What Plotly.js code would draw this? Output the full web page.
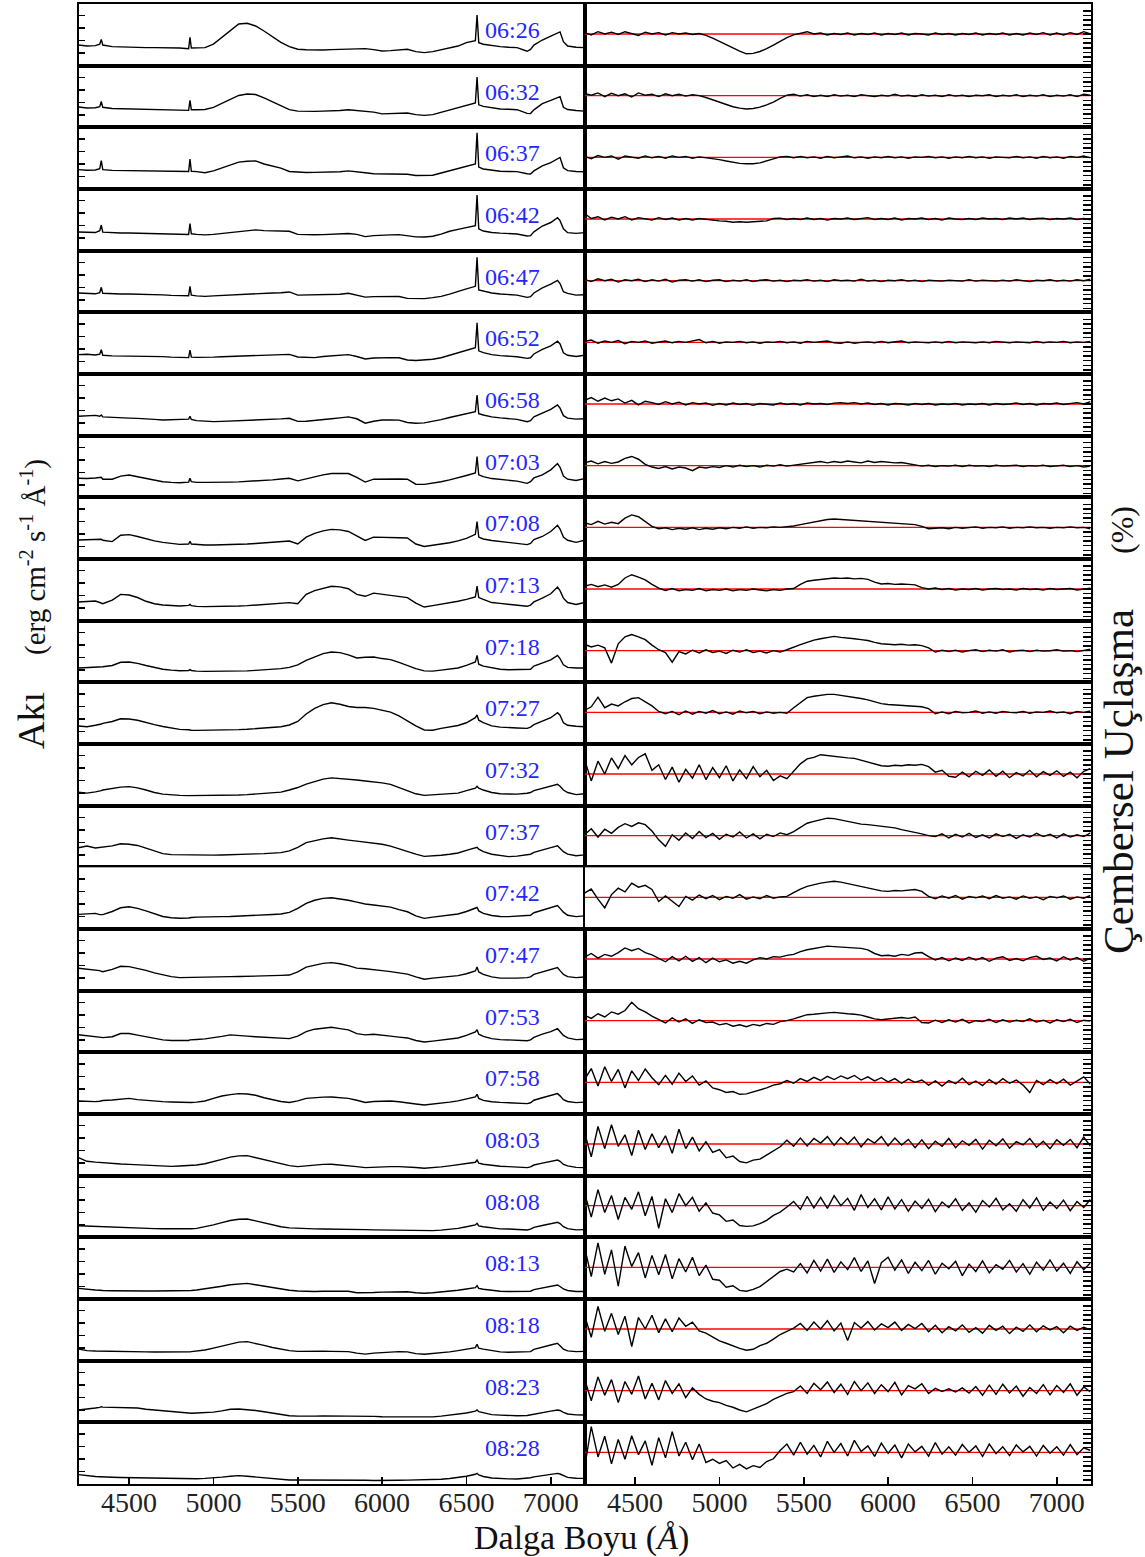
<!DOCTYPE html>
<html><head><meta charset="utf-8">
<script src="https://cdn.plot.ly/plotly-3.0.1.min.js"></script>
<style>html,body{margin:0;padding:0;background:#fff}#chart{width:1145px;height:1557px}</style>
</head><body><div id="chart"></div>
<script>
const times = ['06:26','06:32','06:37','06:42','06:47','06:52','06:58','07:03','07:08','07:13','07:18','07:27',
               '07:32','07:37','07:42','07:47','07:53','07:58','08:03','08:08','08:13','08:18','08:23','08:28'];
const xTickVals = [4500,5000,5500,6000,6500,7000];
const fluxTickVals = [1,2,3,4];
const polTickVals = [-6,-5,-4,-3,-2,-1,0,1,2,3,4,5];

const fluxWave = [4200,4250,4300,4326,4335,4344,4400,4450,4500,4550,
4600,4650,4700,4750,4800,4853,4861,4869,4900,4950,
5000,5050,5100,5150,5200,5250,5300,5350,5400,5450,
5500,5550,5600,5650,5700,5750,5800,5850,5900,5950,
6000,6050,6100,6150,6200,6250,6300,6350,6400,6450,
6500,6553,6563,6573,6600,6650,6700,6750,6800,6860,
6880,6900,6950,7000,7040,7055,7075,7100,7150,7200];

const polWave = [4200,4240,4280,4320,4360,4400,4440,4480,4520,4560,4600,4640,4680,4720,4760,4800,4840,4880,4920,4960,
5000,5040,5080,5120,5160,5200,5240,5280,5320,5360,5400,5440,5480,5520,5560,5600,5640,5680,5720,5760,
5800,5840,5880,5920,5960,6000,6040,6080,6120,6160,6200,6240,6280,6320,6360,6400,6440,6480,6520,6560,
6600,6640,6680,6720,6760,6800,6840,6880,6920,6960,7000,7040,7080,7120,7160,7200];
const zeroLevel = [0, 0];

// Flux (relative units) per time
const flux_0626 = [1.65,1.57,1.60,1.72,2.10,1.65,1.52,1.49,1.47,1.47, 1.44,1.44,1.44,1.42,1.41,1.36,2.27,1.41,1.41,1.44, 1.73,2.27,2.77,3.33,3.39,3.17,2.77,2.32,1.87,1.52, 1.31,1.27,1.25,1.25,1.28,1.31,1.33,1.36,1.36,1.28, 1.17,1.20,1.25,1.31,1.12,1.04,1.12,1.25,1.39,1.57, 1.84,2.00,4.05,1.84,1.71,1.60,1.52,1.47,1.44,1.15, 1.30,1.65,2.05,2.37,2.64,2.70,1.92,1.57,1.47,1.44];
const flux_0632 = [1.63,1.55,1.57,1.65,2.08,1.60,1.50,1.49,1.47,1.47, 1.45,1.45,1.44,1.43,1.41,1.36,2.16,1.41,1.41,1.43, 1.60,1.90,2.22,2.55,2.66,2.62,2.35,2.05,1.78,1.42, 1.30,1.27,1.28,1.30,1.30,1.35,1.40,1.35,1.28,1.22, 1.08,1.10,1.13,1.15,1.02,0.96,1.02,1.20,1.40,1.60, 1.80,1.95,4.03,1.80,1.68,1.55,1.47,1.44,1.41,1.12, 1.10,1.40,1.90,2.15,2.38,2.45,1.60,1.42,1.35,1.30];
const flux_0637 = [1.55,1.50,1.52,1.62,2.27,1.55,1.49,1.48,1.47,1.47, 1.46,1.46,1.45,1.44,1.42,1.40,2.40,1.42,1.39,1.30, 1.45,1.70,1.95,2.15,2.22,2.25,2.00,1.82,1.67,1.40, 1.33,1.32,1.33,1.34,1.35,1.38,1.45,1.40,1.30,1.22, 1.20,1.20,1.22,1.18,1.08,1.06,1.10,1.28,1.47,1.65, 1.85,2.00,4.50,1.75,1.60,1.48,1.42,1.40,1.39,1.22, 1.20,1.45,1.85,2.10,2.45,2.52,1.70,1.47,1.40,1.38];
const flux_0642 = [1.49,1.45,1.45,1.60,2.05,1.48,1.42,1.41,1.41,1.40, 1.40,1.39,1.38,1.36,1.31,1.30,2.16,1.35,1.30,1.26, 1.30,1.38,1.45,1.52,1.62,1.66,1.60,1.57,1.57,1.55, 1.30,1.26,1.27,1.28,1.30,1.32,1.37,1.30,1.12,1.20, 1.25,1.26,1.28,1.20,1.10,1.09,1.15,1.32,1.55,1.70, 1.85,2.00,4.45,1.75,1.57,1.45,1.40,1.36,1.33,1.17, 1.20,1.50,1.97,2.25,2.64,2.40,1.75,1.44,1.38,1.44];
const flux_0647 = [1.55,1.50,1.48,1.58,2.00,1.52,1.47,1.47,1.47,1.46, 1.45,1.43,1.40,1.36,1.33,1.33,2.08,1.38,1.32,1.28, 1.32,1.36,1.38,1.40,1.45,1.50,1.52,1.55,1.57,1.63, 1.38,1.40,1.41,1.40,1.42,1.45,1.52,1.35,1.22,1.26, 1.28,1.28,1.27,1.12,1.08,1.10,1.18,1.28,1.45,1.68, 1.88,2.08,4.40,1.80,1.70,1.55,1.47,1.41,1.38,1.20, 1.25,1.55,1.95,2.25,2.56,2.30,1.65,1.52,1.38,1.41];
const flux_0652 = [1.55,1.58,1.52,1.58,1.95,1.50,1.45,1.45,1.44,1.44, 1.43,1.41,1.39,1.35,1.31,1.31,1.90,1.35,1.33,1.31, 1.35,1.38,1.41,1.44,1.46,1.50,1.52,1.54,1.56,1.57, 1.36,1.33,1.31,1.40,1.45,1.50,1.55,1.40,1.20,1.28, 1.31,1.31,1.30,1.12,1.08,1.10,1.18,1.30,1.50,1.70, 1.90,2.10,4.10,1.85,1.71,1.55,1.47,1.44,1.38,1.25, 1.30,1.60,1.97,2.25,2.62,2.40,1.70,1.50,1.40,1.50];
const flux_0658 = [1.55,1.58,1.62,1.55,1.65,1.50,1.45,1.42,1.40,1.38, 1.36,1.30,1.25,1.27,1.28,1.32,1.55,1.30,1.20,1.14, 1.12,1.14,1.16,1.18,1.20,1.24,1.28,1.31,1.34,1.39, 1.14,1.15,1.20,1.28,1.35,1.42,1.50,1.35,1.00,1.15, 1.25,1.25,1.24,1.05,0.99,1.02,1.12,1.28,1.45,1.62, 1.78,1.92,3.25,1.75,1.65,1.50,1.42,1.39,1.30,1.12, 1.20,1.50,1.80,2.10,2.45,2.20,1.60,1.40,1.32,1.35];
const flux_0703 = [1.52,1.50,1.55,1.57,1.60,1.45,1.45,1.70,1.79,1.65, 1.50,1.35,1.25,1.20,1.17,1.22,1.52,1.25,1.20,1.20, 1.19,1.20,1.22,1.24,1.27,1.30,1.35,1.40,1.46,1.52, 1.32,1.50,1.65,1.80,1.90,1.92,1.90,1.60,1.22,1.45, 1.47,1.47,1.47,1.45,1.05,1.04,1.12,1.25,1.40,1.55, 1.75,1.95,3.25,1.80,1.65,1.50,1.42,1.39,1.30,1.12, 1.25,1.55,1.80,2.20,2.70,2.40,1.70,1.45,1.35,1.50];
const flux_0708 = [1.52,1.55,1.58,1.60,1.58,1.50,1.39,1.90,1.95,1.80, 1.62,1.45,1.33,1.25,1.17,1.20,1.42,1.20,1.15,1.12, 1.12,1.13,1.15,1.17,1.20,1.24,1.28,1.32,1.38,1.44, 1.20,1.75,2.05,2.25,2.37,2.33,2.20,1.85,1.48,1.75, 1.75,1.72,1.70,1.68,1.20,1.00,1.08,1.18,1.30,1.45, 1.65,1.97,3.00,1.75,1.60,1.48,1.40,1.33,1.25,1.15, 1.25,1.55,1.80,2.20,2.70,2.40,1.75,1.50,1.33,1.50];
const flux_0713 = [1.49,1.52,1.57,1.45,1.40,1.36,1.65,2.10,2.05,1.85, 1.55,1.35,1.25,1.20,1.17,1.22,1.30,1.20,1.14,1.12, 1.12,1.13,1.14,1.17,1.20,1.24,1.28,1.32,1.38,1.44, 1.35,2.10,2.40,2.60,2.75,2.70,2.55,2.10,1.95,2.20, 2.10,2.00,1.92,1.84,1.40,1.09,1.20,1.30,1.42,1.55, 1.70,1.89,2.77,1.85,1.70,1.45,1.38,1.31,1.25,1.15, 1.25,1.50,1.80,2.15,2.69,2.40,1.80,1.45,1.30,1.45];
const flux_0718 = [1.15,1.18,1.20,1.22,1.25,1.25,1.35,1.60,1.62,1.52, 1.35,1.18,1.05,0.98,0.93,0.95,1.02,0.95,0.90,0.88, 0.88,0.88,0.88,0.89,0.92,0.96,1.00,1.05,1.10,1.20, 1.40,1.75,2.05,2.30,2.42,2.38,2.20,1.95,2.00,2.02, 1.90,1.82,1.60,1.35,1.10,0.92,0.90,0.98,1.05,1.15, 1.35,1.63,2.16,1.45,1.30,1.15,1.05,1.01,1.01,1.00, 1.05,1.30,1.55,1.80,2.16,1.90,1.40,1.20,1.15,1.15];
const flux_0727 = [1.44,1.38,1.50,1.55,1.60,1.65,1.80,2.02,2.00,1.90, 1.70,1.55,1.40,1.28,1.17,1.14,1.12,1.10,1.09,1.09, 1.09,1.10,1.12,1.15,1.18,1.22,1.28,1.32,1.38,1.52, 1.80,2.40,2.85,3.15,3.30,3.18,3.00,2.92,2.92,2.85, 2.70,2.55,2.25,1.85,1.45,1.12,1.10,1.25,1.35,1.48, 1.70,2.11,2.32,1.90,1.71,1.45,1.35,1.30,1.28,1.25, 1.35,1.55,1.85,2.10,2.50,2.30,1.70,1.50,1.42,1.38];
const flux_0732 = [1.07,1.00,1.10,1.15,1.20,1.25,1.38,1.48,1.52,1.42, 1.25,1.05,0.92,0.85,0.82,0.80,0.80,0.80,0.80,0.80, 0.80,0.81,0.83,0.85,0.88,0.92,0.96,1.02,1.08,1.25, 1.45,1.72,1.95,2.12,2.22,2.18,2.13,2.05,1.97,1.90, 1.82,1.70,1.45,1.15,0.95,0.82,0.85,0.90,0.92,1.00, 1.20,1.40,1.55,1.40,1.25,1.05,0.95,0.91,0.92,0.99, 1.05,1.20,1.40,1.55,1.71,1.55,1.25,1.05,0.88,0.95];
const flux_0737 = [1.57,1.70,1.55,1.58,1.62,1.65,1.72,1.88,1.85,1.75, 1.55,1.30,1.10,1.02,1.00,0.99,0.99,0.99,0.99,0.98, 0.98,0.99,1.00,1.02,1.05,1.08,1.10,1.12,1.18,1.31, 1.60,1.98,2.15,2.28,2.36,2.30,2.18,2.10,2.02,1.95, 1.85,1.70,1.48,1.25,1.05,0.88,0.90,0.97,1.05,1.15, 1.35,1.52,1.60,1.45,1.25,1.05,0.95,0.86,0.90,0.99, 1.05,1.20,1.42,1.58,1.73,1.55,1.25,1.05,0.93,1.00];
const flux_0742 = [1.17,1.22,1.25,1.15,1.12,1.15,1.40,1.70,1.78,1.65, 1.45,1.20,1.00,0.90,0.86,0.88,0.92,0.92,0.95,0.98, 0.99,0.99,1.00,1.02,1.05,1.09,1.13,1.16,1.20,1.33, 1.65,2.05,2.30,2.45,2.50,2.42,2.30,2.15,2.00,1.92, 1.82,1.75,1.55,1.38,1.05,0.85,0.95,1.05,1.12,1.20, 1.40,1.62,1.72,1.45,1.25,1.08,1.00,0.99,1.02,1.05, 1.10,1.30,1.50,1.68,1.87,1.65,1.35,1.10,0.99,1.05];
const flux_0747 = [1.79,1.72,1.68,1.60,1.55,1.52,1.70,1.95,1.92,1.80, 1.62,1.42,1.25,1.12,1.04,1.06,1.08,1.08,1.10,1.10, 1.12,1.12,1.12,1.13,1.14,1.15,1.17,1.19,1.22,1.25, 1.50,1.88,2.05,2.18,2.24,2.15,2.00,1.80,1.75,1.70, 1.60,1.52,1.42,1.32,1.10,0.92,1.00,1.07,1.12,1.20, 1.35,1.57,1.89,1.50,1.30,1.10,1.00,0.99,1.00,1.04, 1.10,1.30,1.50,1.65,1.84,1.60,1.30,1.12,1.04,1.09];
const flux_0753 = [1.41,1.35,1.30,1.25,1.20,1.18,1.25,1.50,1.50,1.38, 1.25,1.10,1.00,0.95,0.93,0.95,1.00,1.00,1.03,1.08, 1.15,1.28,1.40,1.38,1.30,1.25,1.22,1.18,1.15,1.10, 1.30,1.65,1.85,1.95,2.00,1.90,1.80,1.50,1.40,1.45, 1.40,1.30,1.22,1.15,0.95,0.83,0.90,0.98,1.05,1.15, 1.35,1.63,1.81,1.45,1.28,1.10,1.02,1.00,0.95,0.93, 1.00,1.20,1.45,1.65,1.89,1.65,1.35,1.15,1.02,1.05];
const flux_0758 = [1.04,1.00,0.99,1.02,1.05,1.08,1.12,1.20,1.25,1.15, 1.08,1.02,0.99,0.96,0.93,0.91,0.91,0.92,0.95,1.04, 1.25,1.44,1.55,1.63,1.60,1.50,1.30,1.12,1.00,0.92, 1.05,1.25,1.32,1.35,1.36,1.30,1.25,1.10,0.92,1.00, 1.04,1.04,0.98,0.92,0.80,0.72,0.78,0.85,0.95,1.05, 1.20,1.36,1.57,1.25,1.09,0.98,0.93,0.91,0.88,0.83, 0.90,1.10,1.30,1.45,1.63,1.45,1.15,1.00,0.91,0.95];
const flux_0803 = [1.44,1.15,1.08,1.05,1.02,1.00,0.97,0.93,0.90,0.86, 0.82,0.76,0.72,0.74,0.77,0.79,0.80,0.82,0.85,0.95, 1.10,1.30,1.48,1.58,1.60,1.45,1.30,1.12,0.98,0.80, 0.72,0.80,0.87,0.90,0.91,0.86,0.80,0.72,0.64,0.68, 0.70,0.72,0.72,0.70,0.65,0.59,0.62,0.70,0.78,0.88, 0.98,1.07,1.25,1.00,0.91,0.80,0.75,0.72,0.70,0.64, 0.70,0.85,1.00,1.12,1.25,1.15,0.90,0.78,0.66,0.64];
const flux_0808 = [0.93,0.90,0.88,0.87,0.86,0.86,0.85,0.82,0.78,0.74, 0.72,0.70,0.69,0.68,0.67,0.68,0.68,0.69,0.72,0.85, 1.00,1.18,1.35,1.45,1.47,1.32,1.15,0.98,0.85,0.76, 0.72,0.70,0.68,0.67,0.67,0.67,0.67,0.64,0.62,0.60, 0.59,0.58,0.56,0.54,0.52,0.51,0.54,0.58,0.64,0.72, 0.85,0.99,1.12,0.92,0.85,0.75,0.68,0.67,0.65,0.59, 0.65,0.80,0.95,1.08,1.20,1.10,0.85,0.70,0.60,0.62];
const flux_0813 = [0.85,0.76,0.72,0.70,0.68,0.68,0.66,0.64,0.64,0.64, 0.64,0.64,0.64,0.64,0.64,0.65,0.66,0.68,0.72,0.80, 0.90,1.02,1.14,1.22,1.25,1.14,1.02,0.88,0.78,0.70, 0.64,0.60,0.60,0.62,0.63,0.64,0.62,0.50,0.48,0.52, 0.55,0.57,0.58,0.58,0.50,0.46,0.50,0.55,0.62,0.70, 0.80,0.91,1.07,0.85,0.78,0.68,0.62,0.60,0.59,0.59, 0.62,0.75,0.90,1.00,1.12,1.00,0.80,0.68,0.60,0.60];
const flux_0818 = [0.93,0.80,0.77,0.76,0.75,0.74,0.73,0.72,0.72,0.71, 0.70,0.69,0.68,0.67,0.67,0.68,0.70,0.72,0.76,0.85, 1.00,1.18,1.35,1.48,1.52,1.40,1.22,1.05,0.90,0.80, 0.74,0.76,0.77,0.76,0.74,0.73,0.72,0.60,0.52,0.60, 0.66,0.70,0.72,0.70,0.56,0.51,0.56,0.62,0.70,0.80, 0.92,1.04,1.31,1.00,0.92,0.78,0.70,0.67,0.67,0.66, 0.72,0.90,1.10,1.25,1.39,1.20,0.92,0.78,0.72,0.74];
const flux_0823 = [0.99,1.10,1.15,1.20,1.25,1.22,1.20,1.20,1.20,1.15, 1.05,0.99,0.90,0.82,0.76,0.72,0.72,0.73,0.75,0.78, 0.82,0.92,1.05,1.07,1.02,0.95,0.85,0.75,0.62,0.53, 0.50,0.48,0.50,0.52,0.52,0.52,0.52,0.53,0.52,0.48, 0.45,0.44,0.43,0.42,0.40,0.40,0.44,0.50,0.57,0.65, 0.75,0.90,0.99,0.85,0.75,0.62,0.58,0.55,0.53,0.55, 0.60,0.70,0.80,0.90,0.99,0.95,0.80,0.67,0.60,0.59];
const flux_0828 = [0.75,0.65,0.60,0.58,0.57,0.56,0.54,0.52,0.51,0.50, 0.49,0.48,0.46,0.44,0.42,0.40,0.40,0.40,0.42,0.45, 0.48,0.55,0.62,0.67,0.62,0.55,0.50,0.42,0.36,0.32, 0.32,0.32,0.33,0.34,0.35,0.35,0.34,0.32,0.30,0.28, 0.27,0.28,0.30,0.31,0.32,0.33,0.35,0.38,0.44,0.50, 0.62,0.78,0.85,0.72,0.60,0.48,0.43,0.41,0.40,0.45, 0.50,0.57,0.65,0.75,0.85,0.80,0.65,0.53,0.46,0.45];

// Circular polarisation (%) per time
const pol_0626 = [0.3,-0.2,0.5,0.0,0.4, -0.1,0.5,0.1,-0.3,0.4, 0.0,0.3,-0.2,0.3,0.0, 0.2,-0.1,0.1,-0.3,-0.9, -1.6,-2.4,-3.1,-3.7,-4.3, -4.2,-3.8,-3.2,-2.4,-1.6, -0.8,-0.2,0.1,0.5,0.0, 0.2,-0.2,0.1,-0.1,0.2, -0.2,0.1,-0.1,0.2,-0.2, 0.1,-0.1,0.2,-0.2,0.1, 0.0,-0.2,0.2,-0.1,0.1, -0.2,0.1,-0.1,0.2,-0.2, 0.1,-0.1,0.2,-0.2,0.1, -0.2,0.2,-0.1,0.3,-0.2, 0.2,-0.2,0.3,-0.1,0.5,0.0];
const pol_0632 = [0.5,0.1,0.6,-0.2,0.5, 0.0,0.4,-0.3,0.6,0.1, 0.3,-0.2,0.4,0.0,0.3, -0.1,0.2,0.0,-0.4,-0.9, -1.4,-1.9,-2.4,-2.7,-2.9, -2.8,-2.5,-2.0,-1.4,-0.6, 0.1,0.3,-0.1,0.2,-0.2, 0.1,-0.2,0.2,-0.1,0.1, -0.2,0.2,0.0,-0.2,0.1, -0.1,0.3,-0.1,0.1,-0.2, 0.2,-0.1,0.1,-0.2,0.2, -0.1,0.1,-0.2,0.1,0.0, 0.2,-0.2,0.1,-0.1,0.2, -0.2,0.1,-0.1,0.2,-0.2, 0.1,-0.1,0.2,-0.2,0.3,0.1];
const pol_0637 = [0.2,-0.3,0.4,0.0,0.3, -0.4,0.3,0.1,-0.2,0.3, -0.1,0.2,-0.2,0.3,0.0, 0.2,-0.2,0.1,-0.1,-0.2, -0.5,-0.8,-1.1,-1.3,-1.4, -1.4,-1.2,-0.8,-0.3,0.1, 0.2,-0.1,0.2,-0.1,0.1, -0.2,0.2,-0.1,0.1,0.3, -0.1,0.1,-0.2,0.1,-0.1, 0.2,-0.1,0.1,-0.2,0.1, 0.0,0.2,-0.1,0.1,-0.2, 0.1,-0.1,0.2,-0.1,0.1, -0.2,0.1,0.0,-0.1,0.2, -0.1,0.1,-0.2,0.2,-0.1, 0.1,-0.2,0.2,0.0,0.3,-0.1];
const pol_0642 = [1.2,0.1,0.5,-0.2,0.4, 0.0,0.5,-0.2,0.3,0.1, -0.2,0.3,-0.1,0.2,-0.2, 0.1,-0.2,0.1,-0.1,-0.2, -0.4,-0.5,-0.7,-0.6,-0.7, -0.6,-0.5,-0.4,0.1,0.2, -0.1,0.1,-0.1,0.2,-0.1, 0.1,-0.2,0.1,0.0,0.2, -0.1,0.1,0.3,-0.1,0.1, -0.1,0.2,-0.2,0.1,0.0, 0.2,-0.1,0.1,-0.2,0.2, 0.0,-0.1,0.1,-0.1,0.2, 0.0,0.1,-0.1,0.2,0.0, 0.2,-0.1,0.1,0.2,-0.1, 0.1,0.0,0.2,-0.1,0.1,-0.2];
const pol_0647 = [0.3,-0.2,0.4,0.0,0.3, -0.3,0.2,0.0,0.3,-0.2, 0.2,-0.1,0.3,-0.3,0.1, 0.2,-0.1,0.2,-0.2,0.1, 0.2,-0.2,0.1,-0.1,0.2, -0.2,0.1,0.2,-0.1,0.1, -0.2,0.1,0.0,0.2,-0.1, 0.1,-0.2,0.2,0.0,0.1, -0.1,0.3,-0.1,0.1,-0.2, 0.1,0.0,0.2,-0.1,0.1, -0.2,0.1,0.0,-0.1,0.1, 0.0,-0.1,0.2,-0.1,0.1, 0.0,-0.1,0.1,-0.1,0.2, 0.0,-0.2,0.1,0.0,0.2, -0.1,0.1,-0.1,0.2,0.0,0.3];
const pol_0652 = [0.2,0.5,-0.2,0.3,0.0, 0.4,-0.3,0.2,0.0,0.3, -0.2,0.1,0.3,-0.1,0.2, 0.0,0.3,0.6,-0.1,0.2, -0.2,0.1,0.0,0.2,-0.1, 0.1,-0.2,0.1,0.0,0.2, -0.1,0.1,-0.2,0.2,0.0, 0.1,0.3,-0.1,-0.2,0.1, -0.2,0.0,0.1,-0.1,0.2, -0.1,0.1,0.3,-0.1,0.1, 0.0,-0.1,0.1,-0.1,0.2, -0.1,0.1,0.0,-0.1,0.1, -0.1,0.2,0.0,-0.1,0.1, 0.0,-0.1,0.2,-0.1,0.1, 0.0,0.2,-0.1,0.1,0.0,0.2];
const pol_0658 = [0.8,1.4,0.6,1.3,0.7, 1.1,0.2,0.8,-0.2,0.6, 0.3,-0.1,0.5,0.0,0.4, -0.2,0.3,0.0,0.2,-0.3, 0.1,-0.2,0.2,-0.1,0.1, -0.3,0.1,0.0,-0.2,0.2, -0.1,0.1,-0.2,0.2,0.0, 0.1,-0.1,0.2,0.3,0.1, 0.3,0.0,0.2,-0.1,0.1, -0.2,0.1,0.0,-0.2,0.1, -0.1,0.1,-0.2,0.0,-0.1, 0.1,-0.2,0.0,-0.1,0.1, -0.2,0.1,-0.1,0.0,0.2, -0.1,0.1,-0.2,0.1,0.0, 0.2,-0.1,0.1,0.3,0.0,0.5];
const pol_0703 = [0.6,1.0,0.4,0.9,0.5, 0.8,1.6,2.0,1.4,0.3, -0.3,-0.6,-0.2,-0.7,-0.3, -0.5,-1.1,-0.3,-0.5,-0.2, -0.4,0.0,-0.3,0.1,-0.2, 0.0,-0.3,0.1,-0.1,0.2, -0.1,0.1,0.3,0.5,0.7, 0.9,0.6,0.9,0.7,1.0, 0.8,0.6,1.0,0.7,0.9, 0.8,0.6,0.7,0.4,0.2, -0.1,0.1,-0.2,0.0,-0.1, 0.1,-0.2,0.1,-0.1,0.0, -0.2,0.1,-0.1,0.0,0.1, -0.2,0.0,-0.1,0.1,-0.2, 0.0,0.1,-0.2,0.0,-0.3,-0.1];
const pol_0708 = [1.0,0.6,1.3,0.7,1.1, 0.8,2.0,2.7,2.3,1.2, 0.2,-0.3,-0.1,-0.5,-0.2, -0.4,-0.1,-0.5,-0.2,-0.4, -0.1,-0.3,0.0,-0.2,0.1, -0.2,0.0,-0.1,0.1,0.0, 0.1,0.3,0.6,0.9,1.2, 1.4,1.7,1.8,1.7,1.6, 1.5,1.5,1.4,1.2,1.1, 1.0,0.9,0.9,0.8,0.6, 0.2,-0.3,-0.2,-0.1,-0.3, 0.0,-0.2,-0.1,0.1,-0.2, 0.0,-0.1,0.1,-0.2,0.0, -0.1,0.1,-0.1,0.0,-0.2, 0.0,-0.1,0.1,-0.1,0.0,-0.3];
const pol_0713 = [0.6,1.0,0.5,0.9,0.4, 1.0,2.4,3.1,2.6,2.0, 1.0,0.2,-0.3,0.1,-0.4, -0.1,-0.3,0.1,-0.4,-0.1, -0.3,0.0,-0.4,-0.1,-0.3, 0.0,-0.2,-0.4,-0.1,-0.3, 0.0,0.1,1.0,1.7,1.9, 2.1,2.3,2.4,2.3,2.4, 2.2,2.3,2.1,1.5,1.1, 1.2,1.0,1.1,1.0,0.9, 0.3,0.0,0.2,-0.1,0.1, -0.2,0.0,-0.1,0.1,-0.2, 0.0,0.1,-0.1,0.0,-0.2, 0.1,-0.1,0.0,-0.2,0.1, -0.1,0.0,0.1,-0.2,0.0,0.2];
const pol_0718 = [1.4,0.8,1.2,0.6,-2.7, 1.5,3.0,3.5,3.0,2.4, 1.2,0.2,-0.4,-2.5,-0.2, -0.7,0.1,-0.5,0.2,-0.4, -0.1,-0.6,0.1,-0.3,0.2, -0.4,-0.1,-0.5,0.0,-0.3, 0.2,0.8,1.3,1.8,2.3, 2.6,2.9,3.1,2.9,2.8, 2.6,2.4,2.2,1.8,1.5, 1.4,1.3,1.4,1.2,1.3, 1.1,0.6,-0.3,0.1,-0.2, 0.1,-0.3,0.0,0.2,-0.2, 0.1,-0.1,0.2,-0.3,0.0, 0.1,-0.2,0.1,-0.1,0.0, 0.2,-0.1,0.0,-0.2,0.1,0.3];
const pol_0727 = [0.4,1.2,3.3,1.0,1.8, 1.4,2.3,3.0,3.2,2.3, 1.4,0.2,-0.3,0.2,-0.5, 0.3,-0.4,0.2,-0.2,0.4, -0.3,0.1,-0.4,0.3,-0.1, 0.2,-0.3,0.1,-0.2,0.0, -0.2,1.0,2.2,3.2,3.5, 3.7,3.9,3.9,3.7,3.5, 3.3,3.0,2.7,2.3,1.9, 1.7,1.6,1.4,1.3,1.2, 1.2,0.8,-0.3,0.1,-0.3, 0.2,-0.1,0.0,0.3,-0.2, 0.1,-0.2,0.2,0.0,-0.1, 0.2,-0.2,0.1,0.0,0.3, -0.1,0.1,-0.3,0.2,0.0,0.3];
const pol_0732 = [3.2,-1.5,2.8,0.0,3.5, 1.2,4.0,2.0,3.6,4.4, 0.8,2.0,-1.2,1.5,-1.8, 1.0,-0.9,2.0,-1.2,1.4, -0.8,1.8,-1.5,0.9,-1.0, 1.6,-0.6,0.8,-1.4,-0.4, -1.0,0.5,2.2,3.3,3.6, 4.2,4.0,3.8,3.7,3.5, 3.4,3.0,2.6,2.2,1.8, 1.7,1.9,1.8,2.0,1.9, 2.1,1.6,0.4,0.8,-0.5, -0.7,0.4,-0.6,0.6,-0.3, 0.9,-0.5,0.6,-0.8,0.3, -0.4,0.8,-0.6,0.5,-0.3, 0.7,-0.5,0.4,-0.8,0.6,1.2];
const pol_0737 = [0.2,1.5,-0.3,1.4,0.5, 1.8,2.6,2.0,2.8,2.4, 1.0,-0.9,-2.3,0.2,-1.0, 0.6,-0.6,0.9,-0.4,0.5, -0.8,0.3,-0.3,0.8,-0.5, 0.4,-0.7,0.3,-0.2,0.6, 0.2,0.9,1.8,2.7,3.1, 3.4,3.8,3.7,3.4,3.2, 2.9,2.5,2.4,2.2,2.0, 1.8,1.7,1.3,1.0,0.8, 0.4,0.0,-0.2,0.4,-0.5, 0.3,-0.3,0.5,-0.4,0.2, -0.5,0.4,-0.2,0.3,-0.6, 0.2,-0.3,0.5,-0.2,0.3, -0.5,0.4,-0.3,0.2,-0.2,0.6];
const pol_0742 = [0.9,1.8,-0.4,-2.3,0.6, 2.0,1.2,3.1,2.2,2.6, 1.7,-0.9,0.3,-0.8,-2.0, 0.2,-0.6,0.5,-0.3,0.4, -0.5,0.2,-0.2,0.6,-0.4, 0.1,-0.3,0.4,-0.2,0.1, 0.2,1.0,1.8,2.4,2.8, 3.1,3.3,3.5,3.3,3.0, 2.7,2.4,2.0,1.7,1.4, 1.3,1.5,1.4,1.6,1.7, 1.3,0.2,-0.3,0.3,-0.2, 0.4,-0.4,0.2,-0.1,0.3, -0.3,0.4,-0.2,0.1,-0.4, 0.3,-0.2,0.1,-0.5,0.2, -0.1,0.3,-0.4,0.1,-0.2,0.4];
const pol_0747 = [0.4,1.2,0.2,1.0,0.6, 1.4,2.4,1.8,2.3,1.4, 0.9,0.1,-0.6,0.5,-0.4, 0.6,-0.5,0.3,-0.8,0.2, -0.6,-0.2,-0.9,-0.5,-0.9, -0.2,0.3,0.0,0.5,0.4, 0.8,1.0,1.6,2.0,2.3, 2.5,2.8,2.7,2.6,2.5, 2.4,2.3,2.0,1.2,0.7, 0.8,0.6,1.0,0.8,1.3, 1.4,0.5,-0.2,0.3,-0.4, 0.2,-0.3,0.4,-0.2,0.3, -0.5,0.2,0.5,-0.3,0.1, -0.4,0.3,0.6,-0.1,0.2, -0.4,0.5,-0.2,0.3,-0.5,0.2];
const pol_0753 = [1.2,0.5,1.5,0.8,1.9, 1.4,2.2,4.0,2.6,1.9, 1.0,0.2,-0.5,0.6,-0.3, 0.4,-0.6,0.2,-0.4,-0.3, -0.9,-0.6,-1.2,-0.9,-1.3, -0.8,-1.1,-0.6,-0.8,-0.2, 0.0,0.4,0.9,1.3,1.4, 1.6,1.7,1.8,1.6,1.5, 1.4,1.2,0.8,0.4,0.2, 0.4,0.6,0.7,0.5,0.8, -0.4,-0.5,0.1,-0.4,0.2, -0.3,0.3,-0.5,0.0,-0.2, 0.3,-0.4,0.2,-0.3,0.1, -0.2,0.4,-0.3,0.1,-0.5, 0.2,-0.2,0.3,-0.4,0.1,-0.1];
const pol_0758 = [0.6,3.0,-0.8,3.4,0.2, 2.8,-1.2,2.5,0.4,2.9, 1.0,-0.5,1.5,-0.4,2.0, 0.2,1.4,-0.6,0.3,-1.2, -1.6,-2.2,-2.0,-2.6,-2.5, -2.1,-1.6,-1.2,-0.6,-0.3, 0.4,-0.2,0.8,0.2,1.1, 0.4,1.3,0.6,1.4,0.8, 1.5,0.5,1.2,0.3,1.0, 0.1,0.8,-0.2,0.7,0.0, 0.5,-0.6,0.3,-0.8,0.4, -0.3,0.9,-0.5,0.3,-0.7, 0.6,-0.4,0.8,-0.2,0.5, -0.6,-2.2,0.4,-0.5,0.6, -0.3,0.7,-0.6,0.3,1.2,-0.4];
const pol_0803 = [2.5,-2.8,3.8,-1.0,4.2, -0.5,2.0,-2.5,3.0,-1.2, 2.2,-0.8,1.8,-2.0,3.2, -1.0,1.5,-1.5,0.5,-1.8, -1.2,-3.0,-2.6,-3.8,-4.1, -3.5,-3.3,-2.4,-1.6,-0.6, 0.8,-0.5,1.3,-0.4,1.2, 0.2,1.6,-0.3,1.4,0.0, 1.5,-0.6,1.1,0.2,1.6, -0.4,1.3,-0.2,1.0,-0.8, 0.9,-1.0,0.6,-0.5,1.2, -0.8,0.7,-0.3,1.0,-1.1, 0.8,-0.4,1.1,-0.9,0.5, -0.2,1.2,-0.7,0.6,-1.0, 0.9,-0.3,1.0,-0.8,1.5,-0.5];
const pol_0808 = [2.8,-2.5,3.5,-1.5,2.2, -3.0,1.8,-0.8,3.0,-2.2, 2.0,-4.9,1.5,-1.5,2.6, 0.0,1.8,-1.2,0.6,-1.6, -2.0,-3.4,-3.1,-4.3,-4.5, -4.4,-3.9,-3.2,-2.1,-1.4, -0.3,0.9,-0.8,2.0,-0.5, 1.8,-0.6,2.2,0.0,1.6, -1.0,2.4,-0.4,1.5,-0.9, 1.9,-0.7,1.3,-1.2,1.0, -0.6,1.4,-1.3,0.8,-0.4, 1.5,-1.0,0.6,-1.4,1.1, -0.3,1.6,-0.9,0.4,-1.2, 1.3,-0.5,1.7,-1.0,0.8, -0.6,1.2,-1.1,0.9,-0.4,1.4];
const pol_0813 = [4.5,-2.0,5.3,-1.5,3.8, -4.1,4.6,0.2,3.2,-2.3, 2.6,-1.6,2.8,-2.5,1.9, -1.0,2.2,-1.8,0.5,-2.6, -2.8,-4.3,-4.0,-5.0,-5.2, -4.8,-4.2,-3.1,-1.8,-0.9, -0.4,-1.0,0.8,-1.2,1.5, -0.8,1.8,-1.1,1.2,-0.5, 2.1,-0.9,1.4,-3.5,1.0, 2.2,-0.6,1.6,-1.3,1.1, -0.7,1.5,-1.5,0.9,-0.3, 1.3,-1.8,0.7,-0.9,1.4, -1.2,0.6,-0.4,1.5,-1.0, 0.8,-1.5,1.1,-0.6,1.6, -0.8,0.9,-1.3,1.2,-0.5,1.0];
const pol_0818 = [3.0,-1.8,4.9,-0.5,3.4, -1.2,2.8,-3.8,2.5,0.0, 3.0,-0.8,2.2,-0.6,2.4, 0.6,1.5,-0.4,-0.9,-1.8, -2.6,-3.1,-3.7,-4.2,-4.6, -4.4,-3.6,-3.1,-2.2,-1.2, -0.5,0.2,1.2,-0.3,1.5, 0.0,1.8,-0.4,1.3,-2.5, 1.4,0.2,1.6,-0.2,1.1, 0.3,1.5,-0.3,1.0,0.1, 1.2,-0.6,0.8,-0.8,0.5, -0.4,0.9,-0.7,0.3,-0.9, 0.8,-0.3,0.6,-1.0,0.4, -0.5,0.9,-0.6,0.7,-0.2, 0.5,-0.8,0.6,-0.3,0.4,-0.2];
const pol_0823 = [2.6,-2.2,3.0,-1.0,2.4, -2.6,2.0,-0.8,3.2,-1.8, 1.6,-2.0,2.2,-0.6,1.5, -1.5,0.6,-0.8,-1.8,-2.3, -2.6,-3.2,-3.6,-4.2,-4.6, -4.0,-3.5,-2.8,-1.9,-1.2, -0.6,-0.2,1.0,-0.6,1.6, 0.2,1.9,-0.4,1.4,-0.8, 2.0,0.0,1.7,-0.6,1.3, -0.2,1.8,-0.9,1.1,0.4, 1.5,-0.6,0.5,-0.2,0.4, -0.3,0.6,-0.5,0.9,-1.0, 1.2,-0.8,1.4,-0.5,1.0, -1.2,0.7,-0.6,1.3,-0.9, 1.1,-0.4,1.5,-1.0,0.8,-0.3];
const pol_0828 = [-3.5,5.6,-1.0,3.5,-2.5, 2.8,-1.5,3.6,-0.5,2.5, -2.8,3.2,-1.2,4.5,-0.8, 2.2,-1.6,1.8,-2.2,-1.5, -2.4,-1.8,-3.4,-2.6,-3.6, -2.9,-3.3,-2.0,-1.4,0.4, 1.8,-0.6,2.2,-0.4,1.5, -1.0,2.4,0.0,1.9,-0.8, 2.6,0.2,1.4,-0.9,2.0, -0.2,1.6,-1.2,1.8,0.1, 1.3,-0.8,2.1,-0.4,1.2, -0.6,1.7,0.0,1.4,-0.9, 1.8,-0.3,1.2,-0.7,1.6, 0.1,1.3,-0.8,1.5,-0.2, 1.2,-0.6,1.7,-0.5,1.0,0.4];

const fluxRows = [flux_0626,flux_0632,flux_0637,flux_0642,flux_0647,flux_0652,flux_0658,flux_0703,flux_0708,flux_0713,flux_0718,flux_0727,
                  flux_0732,flux_0737,flux_0742,flux_0747,flux_0753,flux_0758,flux_0803,flux_0808,flux_0813,flux_0818,flux_0823,flux_0828];
const polRows = [pol_0626,pol_0632,pol_0637,pol_0642,pol_0647,pol_0652,pol_0658,pol_0703,pol_0708,pol_0713,pol_0718,pol_0727,
                 pol_0732,pol_0737,pol_0742,pol_0747,pol_0753,pol_0758,pol_0803,pol_0808,pol_0813,pol_0818,pol_0823,pol_0828];

// ---------- layout ----------
const W = 1145, H = 1557;
const XL = 78.5, XM = 584.5, XR = 1090.5, TOP = 4, ROWH = 61.667;
const FONT = '"Liberation Serif", "Times New Roman", serif';
const waveRange = [fluxWave[0], fluxWave[fluxWave.length - 1]];

const data = [];
const layout = {
  width: W, height: H, autosize: false,
  margin: {l: 0, r: 0, t: 0, b: 0, pad: 0},
  paper_bgcolor: '#ffffff', plot_bgcolor: '#ffffff',
  showlegend: false, hovermode: false,
  annotations: []
};

const nRows = times.length;
for (let r = 0; r < nRows; r++) {
  const top = TOP + r * ROWH, bot = top + ROWH;
  const yDom = [1 - bot / H, 1 - top / H];
  const last = (r === nRows - 1);
  for (let c = 0; c < 2; c++) {
    const n = r * 2 + c + 1;
    const xs = n === 1 ? 'x' : 'x' + n, ys = n === 1 ? 'y' : 'y' + n;
    const xk = n === 1 ? 'xaxis' : 'xaxis' + n, yk = n === 1 ? 'yaxis' : 'yaxis' + n;
    layout[xk] = {
      domain: c === 0 ? [XL / W, XM / W] : [XM / W, XR / W],
      anchor: ys, range: waveRange, fixedrange: true,
      showline: true, mirror: true, linecolor: '#000', linewidth: 2,
      showgrid: false, zeroline: false,
      tickmode: 'array', tickvals: xTickVals,
      ticks: last ? 'inside' : '', ticklen: 7, tickwidth: 1.5, tickcolor: '#000',
      showticklabels: last, ticklabelstandoff: -8,
      tickfont: {family: FONT, size: 28, color: '#222'}
    };
    if (c === 0) {
      layout[yk] = {
        domain: yDom, anchor: xs, range: [0, 4.93], fixedrange: true,
        tickmode: 'array', tickvals: fluxTickVals, ticks: 'inside', ticklen: 6, tickwidth: 1.5, tickcolor: '#000',
        showticklabels: false, showline: true, mirror: true, linecolor: '#000', linewidth: 2,
        showgrid: false, zeroline: false
      };
      data.push({type: 'scatter', mode: 'lines', x: fluxWave, y: fluxRows[r], xaxis: xs, yaxis: ys,
                 line: {color: '#000', width: 1.4}, hoverinfo: 'skip'});
    } else {
      layout[yk] = {
        domain: yDom, anchor: xs, range: [-6.88, 6.52], fixedrange: true, side: 'right',
        tickmode: 'array', tickvals: polTickVals, ticks: 'inside', ticklen: 8, tickwidth: 1.5, tickcolor: '#000',
        showticklabels: false, showline: true, mirror: true, linecolor: '#000', linewidth: 2,
        showgrid: false, zeroline: false
      };
      data.push({type: 'scatter', mode: 'lines', x: waveRange, y: zeroLevel, xaxis: xs, yaxis: ys,
                 line: {color: '#ff0000', width: 1.3}, hoverinfo: 'skip'});
      data.push({type: 'scatter', mode: 'lines', x: polWave, y: polRows[r], xaxis: xs, yaxis: ys,
                 line: {color: '#000', width: 1.4}, hoverinfo: 'skip'});
    }
  }
  layout.annotations.push({
    xref: 'paper', yref: 'paper', x: 483 / W, y: 1 - (top + 26) / H,
    xanchor: 'left', yanchor: 'middle', showarrow: false,
    text: times[r], font: {family: FONT, size: 24, color: '#2626ff'}
  });
}

// axis titles
layout.annotations.push({
  xref: 'paper', yref: 'paper', x: 581 / W, y: 1 - 1538 / H, xanchor: 'center', yanchor: 'middle',
  showarrow: false, text: 'Dalga Boyu (<i>Å</i>)', font: {family: FONT, size: 34, color: '#111'}
});
layout.annotations.push({
  xref: 'paper', yref: 'paper', x: 31 / W, y: 1 - 721 / H, xanchor: 'center', yanchor: 'middle',
  showarrow: false, textangle: -90, text: 'Akı', font: {family: FONT, size: 38, color: '#111'}
});
layout.annotations.push({
  xref: 'paper', yref: 'paper', x: 33 / W, y: 1 - 557 / H, xanchor: 'center', yanchor: 'middle',
  showarrow: false, textangle: -90,
  text: '(erg cm<sup>-2</sup> s<sup>-1</sup> Å<sup>-1</sup>)', font: {family: FONT, size: 29, color: '#111'}
});
layout.annotations.push({
  xref: 'paper', yref: 'paper', x: 1119 / W, y: 1 - 782 / H, xanchor: 'center', yanchor: 'middle',
  showarrow: false, textangle: -90, text: 'Çembersel Uçlaşma', font: {family: FONT, size: 43, color: '#111'}
});
layout.annotations.push({
  xref: 'paper', yref: 'paper', x: 1122 / W, y: 1 - 530 / H, xanchor: 'center', yanchor: 'middle',
  showarrow: false, textangle: -90, text: '(%)', font: {family: FONT, size: 32, color: '#111'}
});

Plotly.newPlot('chart', data, layout, {staticPlot: true, displayModeBar: false});
</script>
</body></html>
